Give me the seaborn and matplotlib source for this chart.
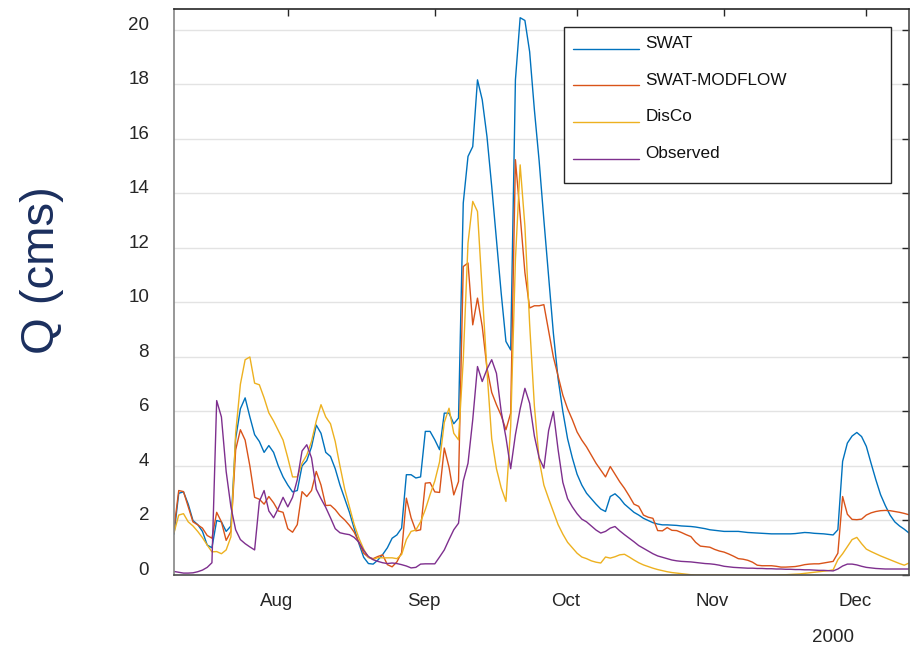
import numpy as np
import pandas as pd
import matplotlib
matplotlib.use("Agg")
import matplotlib.pyplot as plt
from matplotlib.legend_handler import HandlerLine2D
from matplotlib.lines import Line2D
from matplotlib.patches import Rectangle
from matplotlib.transforms import ScaledTranslation
import seaborn as sns

# ---------------- data (daily, starting 2000-07-08) ----------------
start_date = "2000-07-08"

swat = [1.5, 3.0, 3.05, 2.6, 2.0, 1.85, 1.6, 1.1, 1.0, 2.0,
        1.95, 1.6, 1.8, 5.0, 6.1, 6.5, 5.8, 5.15, 4.9, 4.5,
        4.75, 4.5, 4.0, 3.6, 3.3, 3.05, 3.1, 4.0, 4.2, 4.7,
        5.5, 5.2, 4.5, 4.35, 3.9, 3.3, 2.8, 2.3, 1.7, 1.15,
        0.65, 0.42, 0.4, 0.55, 0.75, 1.0, 1.35, 1.47, 1.72, 3.68,
        3.68, 3.56, 3.6, 5.27, 5.27, 4.96, 4.6, 5.94, 5.94, 5.55,
        5.76, 13.65, 15.36, 15.72, 18.17, 17.44, 16.09, 14.26, 12.3, 10.34,
        8.57, 8.26, 18.17, 20.45, 20.35, 19.2, 17.07, 15.2, 13.03, 10.95,
        8.88, 7.2, 6.0, 5.0, 4.3, 3.7, 3.3, 3.0, 2.8, 2.6,
        2.42, 2.33, 2.88, 2.98, 2.82, 2.6, 2.45, 2.3, 2.2, 2.08,
        2.0, 1.92, 1.87, 1.84, 1.84, 1.83, 1.82, 1.8, 1.79, 1.78,
        1.76, 1.73, 1.7, 1.66, 1.64, 1.62, 1.6, 1.6, 1.6, 1.6,
        1.58, 1.56, 1.55, 1.54, 1.53, 1.52, 1.51, 1.51, 1.51, 1.51,
        1.51, 1.52, 1.54, 1.56, 1.55, 1.53, 1.52, 1.51, 1.49, 1.47,
        1.66, 4.17, 4.84, 5.1, 5.23, 5.08, 4.72, 4.1, 3.5, 2.95,
        2.55, 2.2, 1.95, 1.8, 1.68, 1.54]

swat_modflow = [1.7, 3.1, 3.06, 2.5, 1.95, 1.84, 1.72, 1.45, 1.35, 2.3,
                1.95, 1.27, 1.6, 4.59, 5.33, 4.95, 4.0, 2.85, 2.78, 2.6,
                2.88, 2.65, 2.35, 2.3, 1.7, 1.57, 1.85, 3.06, 2.88, 3.1,
                3.8, 3.3, 2.55, 2.56, 2.4, 2.18, 2.02, 1.82, 1.57, 1.2,
                0.8, 0.65, 0.6, 0.68, 0.74, 0.38, 0.3, 0.48, 0.82, 2.82,
                2.1, 1.62, 1.66, 3.37, 3.39, 3.05, 3.03, 4.66, 3.95, 2.94,
                3.43, 11.32, 11.45, 9.18, 10.16, 9.12, 7.6, 6.7, 6.25, 5.85,
                5.33, 5.94, 15.24, 13.2, 11.1, 9.8, 9.88, 9.88, 9.92, 8.95,
                8.0, 7.3, 6.6, 6.1, 5.7, 5.25, 4.95, 4.7, 4.4, 4.1,
                3.85, 3.6, 3.98, 3.7, 3.42, 3.18, 2.9, 2.6, 2.52, 2.2,
                2.12, 2.08, 1.63, 1.62, 1.74, 1.64, 1.63, 1.56, 1.48, 1.41,
                1.2, 1.06, 1.04, 1.02, 0.94, 0.88, 0.84, 0.77, 0.69, 0.6,
                0.58, 0.54, 0.47, 0.36, 0.34, 0.34, 0.34, 0.32, 0.29, 0.29,
                0.3, 0.31, 0.34, 0.38, 0.4, 0.41, 0.41, 0.44, 0.47, 0.5,
                0.8, 2.88, 2.23, 2.04, 2.03, 2.05, 2.2, 2.28, 2.33, 2.36,
                2.37, 2.36, 2.33, 2.3, 2.26, 2.21]

disco = [1.55, 2.2, 2.25, 1.95, 1.8, 1.6, 1.37, 1.1, 0.85, 0.86,
         0.78, 0.92, 1.4, 5.2, 7.0, 7.9, 8.0, 7.04, 6.98, 6.5,
         5.95, 5.65, 5.3, 4.95, 4.3, 3.6, 3.6, 4.1, 4.4, 4.9,
         5.65, 6.25, 5.8, 5.55, 4.9, 4.0, 3.15, 2.5, 1.85, 1.35,
         0.95, 0.64, 0.57, 0.64, 0.63, 0.63, 0.63, 0.6, 0.75, 1.3,
         1.6, 1.65, 1.95, 2.4, 2.95, 3.45, 4.15, 5.6, 6.12, 5.2,
         4.96, 7.9, 12.18, 13.71, 13.34, 10.4, 7.5, 5.0, 3.9, 3.2,
         2.7, 5.45, 11.57, 15.05, 12.8, 9.2, 6.2, 4.23, 3.3, 2.8,
         2.33, 1.85, 1.5, 1.2, 1.0, 0.8, 0.66, 0.6, 0.52, 0.47,
         0.44, 0.66, 0.62, 0.67, 0.74, 0.76, 0.66, 0.55, 0.45, 0.37,
         0.31, 0.25, 0.2, 0.16, 0.12, 0.09, 0.07, 0.05, 0.03, 0.01,
         0.0, 0.0, 0.0, 0.0, 0.0, 0.0, 0.0, 0.0, 0.0, 0.0,
         0.0, 0.0, 0.0, 0.0, 0.0, 0.0, 0.0, 0.0, 0.01, 0.01,
         0.02, 0.03, 0.04, 0.06, 0.08, 0.1, 0.12, 0.14, 0.16, 0.19,
         0.56, 0.78, 1.04, 1.3, 1.38, 1.15, 0.95, 0.86, 0.78, 0.7,
         0.63, 0.56, 0.49, 0.42, 0.36, 0.44]

observed = [0.13, 0.1, 0.07, 0.07, 0.08, 0.12, 0.18, 0.28, 0.45, 6.4,
            5.8, 3.8, 2.5, 1.66, 1.3, 1.15, 1.03, 0.92, 2.7, 3.1,
            2.35, 2.1, 2.45, 2.85, 2.5, 2.85, 3.5, 4.55, 4.78, 4.3,
            3.15, 2.8, 2.48, 2.1, 1.7, 1.55, 1.51, 1.48, 1.38, 1.2,
            0.9, 0.68, 0.56, 0.5, 0.45, 0.42, 0.44, 0.42, 0.38, 0.33,
            0.26, 0.28, 0.4, 0.41, 0.41, 0.41, 0.66, 0.92, 1.3, 1.66,
            1.9, 3.45, 4.1, 5.7, 7.65, 7.1, 7.55, 7.9, 7.4, 6.0,
            5.05, 3.9, 5.15, 6.1, 6.85, 6.3, 5.1, 4.3, 3.92, 5.3,
            6.0, 4.6, 3.4, 2.8, 2.5, 2.25, 2.05, 1.95, 1.8, 1.65,
            1.54, 1.6, 1.72, 1.78, 1.62, 1.48, 1.35, 1.22, 1.08, 0.98,
            0.88, 0.78, 0.7, 0.65, 0.6, 0.55, 0.52, 0.5, 0.49, 0.48,
            0.46, 0.44, 0.42, 0.41, 0.39, 0.36, 0.32, 0.3, 0.28, 0.27,
            0.26, 0.25, 0.25, 0.24, 0.24, 0.23, 0.23, 0.22, 0.22, 0.21,
            0.21, 0.2, 0.2, 0.19, 0.19, 0.18, 0.17, 0.17, 0.16, 0.15,
            0.22, 0.33, 0.4, 0.4, 0.37, 0.32, 0.28, 0.26, 0.24, 0.23,
            0.22, 0.22, 0.22, 0.22, 0.22, 0.22]

series_names = ["SWAT", "SWAT-MODFLOW", "DisCo", "Observed"]
series_colors = ["#0072BD", "#D95319", "#EDB120", "#7E2F8E"]
month_ticks = ["2000-08-01", "2000-09-01", "2000-10-01", "2000-11-01", "2000-12-01"]
month_labels = ["Aug", "Sep", "Oct", "Nov", "Dec"]
y_ticks = [0, 2, 4, 6, 8, 10, 12, 14, 16, 18, 20]
y_label = "Q (cms)"
year_label = "2000"

# ---------------- build table ----------------
dates = pd.date_range(start_date, periods=len(swat), freq="D")
all_values = [swat, swat_modflow, disco, observed]
df = pd.concat(
    [pd.DataFrame({"date": dates, "Q": vals, "model": name})
     for name, vals in zip(series_names, all_values)],
    ignore_index=True)

sns.set_theme(style="white")
plt.rcParams["font.family"] = ["Liberation Sans", "DejaVu Sans"]

W, H = 912, 653
fig = plt.figure(figsize=(W / 100, H / 100), dpi=100)
ax = fig.add_axes([174 / W, 1 - 575 / H, 735 / W, 566 / H])

sns.lineplot(data=df, x="date", y="Q", hue="model", hue_order=series_names,
             palette=series_colors, linewidth=1.0, ax=ax, legend=False)

ax.set_xlim(dates[0], dates[-1])
ax.set_ylim(0, 20.77)
ax.set_xticks(pd.to_datetime(month_ticks))
ax.set_xticklabels(month_labels)
ax.set_yticks(y_ticks)
ax.set_xlabel("")
ax.set_ylabel("")

ax.yaxis.grid(True, color="#e3e3e3", linewidth=1.0)
ax.xaxis.grid(False)
ax.set_axisbelow(True)

spine_colors = {"left": "#858585", "bottom": "#4d4d4d",
                "top": "#262626", "right": "#4d4d4d"}
for side, col in spine_colors.items():
    ax.spines[side].set_color(col)
    ax.spines[side].set_linewidth(1.2)

ax.tick_params(axis="both", direction="in", length=5, width=1.0,
               colors="#262626", labelsize=13.5, top=True, right=True,
               labeltop=False, labelright=False)
ax.tick_params(axis="x", pad=13)
ax.tick_params(axis="y", pad=18)
xshift = ScaledTranslation(-11.5 / 100, 0, fig.dpi_scale_trans)
for lab in ax.get_xticklabels():
    lab.set_horizontalalignment("center")
    lab.set_transform(lab.get_transform() + xshift)
for lab in ax.get_yticklabels():
    lab.set_verticalalignment("baseline")


class LowLineHandler(HandlerLine2D):
    def create_artists(self, legend, orig_handle, xdescent, ydescent,
                       width, height, fontsize, trans):
        arts = super().create_artists(legend, orig_handle, xdescent, ydescent,
                                      width, height, fontsize, trans)
        for a in arts:
            if isinstance(a, Line2D):
                a.set_ydata(np.asarray(a.get_ydata(), dtype=float) - 0.4 * fontsize)
        return arts


# legend frame (fixed box) + legend entries
leg_x0, leg_y0, leg_w, leg_h = 0.5306, 0.6926, 0.4449, 0.2754
ax.add_patch(Rectangle((leg_x0, leg_y0), leg_w, leg_h, transform=ax.transAxes,
                       facecolor="white", edgecolor="#262626", linewidth=1.0,
                       zorder=4.9))
handles = [Line2D([], [], color=c, linewidth=1.0) for c in series_colors]
leg = ax.legend(handles, series_names, loc="upper left",
                bbox_to_anchor=(leg_x0, leg_y0 + leg_h),
                borderaxespad=0, fontsize=12.3,
                handlelength=3.92, handletextpad=0.35, borderpad=0.5,
                labelspacing=1.28, frameon=False,
                handler_map={Line2D: LowLineHandler()})
leg.set_zorder(5)
for t in leg.get_texts():
    t.set_color("#111111")

fig.text(42 / W, 1 - 270 / H, y_label, rotation=90, ha="center", va="center",
         fontsize=34, color="#1b2f5e")
fig.text(833 / W, 1 - 637 / H, year_label, ha="center", va="center",
         fontsize=13.5, color="#262626")

fig.savefig("out.png", dpi=100)
